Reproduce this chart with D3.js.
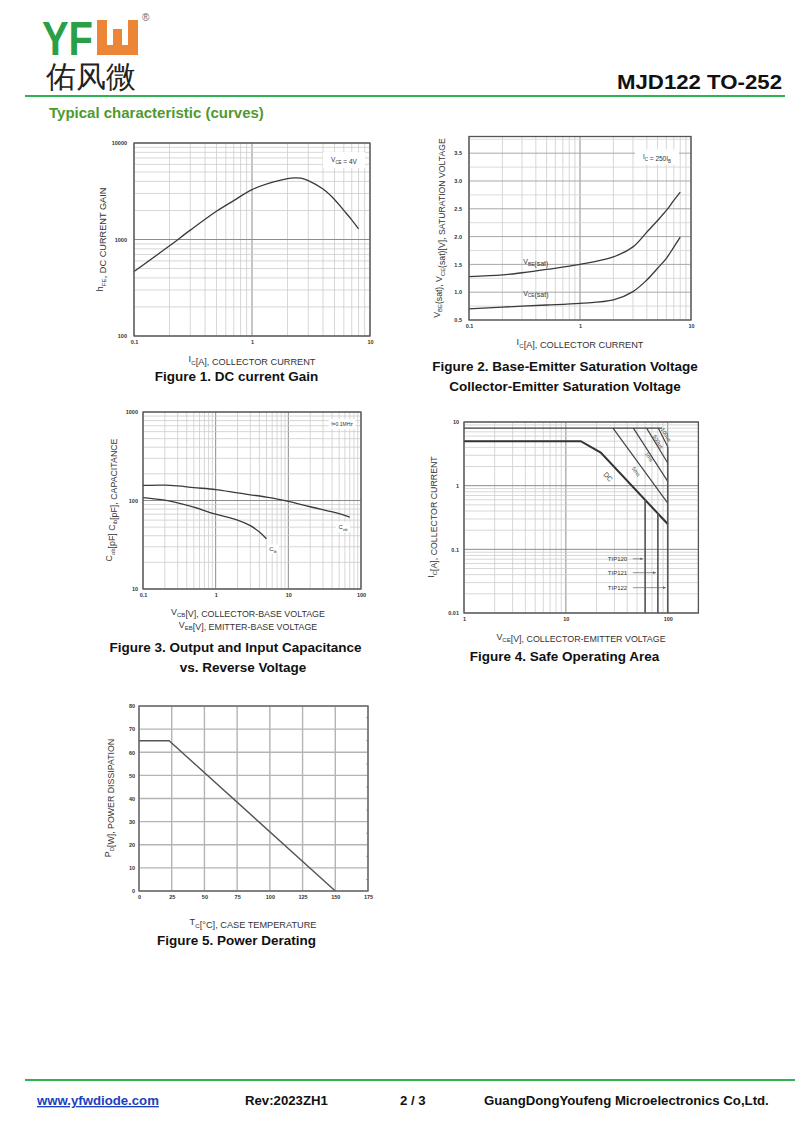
<!DOCTYPE html>
<html><head><meta charset="utf-8">
<script src="https://cdn.jsdelivr.net/npm/d3@7"></script>
<style>
body{margin:0;background:#fff}
svg{display:block}
text{font-family:"Liberation Sans",Arial,sans-serif}
</style>
</head><body>
<svg id="c" width="800" height="1137"></svg>
<script>
// ---------------- DATA ----------------
// Figure 1: DC current gain
const fig1Current = [0.1,0.2,0.3,0.5,0.7,1,1.5,2,2.3,2.6,3,4,5,6,7,8];
const fig1Gain    = [465,860,1250,1960,2530,3290,3925,4285,4360,4320,4080,3330,2600,2000,1600,1290];
const fig1XTicks = [0.1,1,10];
const fig1YTicks = [100,1000,10000];

// Figure 2: saturation voltages
const fig2Current = [0.1,0.2,0.3,0.5,1,2,3,4,5,6,7,8];
const fig2Vbe     = [1.28,1.31,1.35,1.41,1.50,1.635,1.815,2.08,2.29,2.47,2.65,2.80];
const fig2Vce     = [0.70,0.73,0.75,0.77,0.80,0.86,1.01,1.22,1.43,1.61,1.81,1.99];
const fig2XTicks = [0.1,1,10];
const fig2YTicks = [0.5,1.0,1.5,2.0,2.5,3.0,3.5];

// Figure 3: capacitance
const fig3VoltageOb = [0.1,0.2,0.3,0.5,1,2,5,10,20,50,70];
const fig3Cob       = [148,149,146,140,133,122,109,98,85,71,65];
const fig3VoltageIb = [0.1,0.2,0.3,0.5,1,2,3,4,5];
const fig3Cib       = [108,101,94,84,70,60,52,44,37];
const fig3XTicks = [0.1,1,10,100];
const fig3YTicks = [10,100,1000];

// Figure 4: safe operating area
const soaDcVoltage = [1,14,22,100];
const soaDcCurrent = [5,5,3.3,0.25];
const soaPulseNames   = ["5ms","1ms","500us","100us"];
const soaPulseStartV  = [29,46,62,81];
const soaPulseEndI    = [0.53,1.17,2.27,4.1];
const soaPulseLimitI  = 8;
const soaPulseEndV    = 100;
const soaLimitLineEndV = 88;
const tipNames    = ["TIP120","TIP121","TIP122"];
const tipVoltage  = [60,80,100];
const tipTopI     = [0.6,0.37,4.1];
const tipArrowI   = [0.071,0.043,0.025];
const fig4XTicks = [1,10,100];
const fig4YTicks = [0.01,0.1,1,10];

// Figure 5: power derating
const fig5Temp  = [0,23,150];
const fig5Power = [65,65,0];
const fig5XTicks = [0,25,50,75,100,125,150,175];
const fig5YTicks = [0,10,20,30,40,50,60,70,80];

// ---------------- HELPERS ----------------
const svg = d3.select("#c");
const GREEN = "#2db353";
const isDecade = v => Math.abs(Math.log10(v) - Math.round(Math.log10(v))) < 1e-9;
const TF = 9.2; // axis title font size

function rich(t, parts, fs){
  parts.forEach(p=>{
    if (typeof p === "string") t.append("tspan").text(p);
    else {
      t.append("tspan").attr("font-size", fs*0.68).attr("dy", fs*0.28).text(p.sub);
      t.append("tspan").attr("dy", -fs*0.28).text("");
    }
  });
  return t;
}
function logGrid(g, x, y, minorC, majorC){
  const [x0,x1] = x.range(), [y0,y1] = y.range();
  x.ticks().forEach(v=>{
    g.append("line").attr("x1",x(v)).attr("x2",x(v)).attr("y1",y0).attr("y2",y1)
      .attr("stroke", isDecade(v)?majorC:minorC).attr("stroke-width", isDecade(v)?1:0.8);
  });
  y.ticks().forEach(v=>{
    g.append("line").attr("y1",y(v)).attr("y2",y(v)).attr("x1",x0).attr("x2",x1)
      .attr("stroke", isDecade(v)?majorC:minorC).attr("stroke-width", isDecade(v)?1:0.8);
  });
}
function frame(g, x, y, c, w){
  const [x0,x1] = x.range(), [y0,y1] = y.range();
  g.append("rect").attr("x",x0).attr("y",Math.min(y0,y1)).attr("width",x1-x0)
    .attr("height",Math.abs(y0-y1)).attr("fill","none").attr("stroke",c).attr("stroke-width",w);
}
function styleAxis(a, fs){
  a.select(".domain").remove();
  a.selectAll("line").remove();
  a.selectAll("text").attr("font-size",fs).attr("font-weight","bold").attr("fill","#333")
    .attr("font-family","'Liberation Sans',Arial,sans-serif");
}
function axes(g, x, y, xt, yt, fmtX, fmtY, padX, padY){
  const [y0] = y.range();
  const ax = g.append("g").attr("transform",`translate(0,${y0})`)
    .call(d3.axisBottom(x).tickValues(xt).tickSize(0).tickPadding(padX).tickFormat(fmtX));
  styleAxis(ax, 5.5);
  const [x0] = x.range();
  const ay = g.append("g").attr("transform",`translate(${x0},0)`)
    .call(d3.axisLeft(y).tickValues(yt).tickSize(0).tickPadding(padY).tickFormat(fmtY));
  styleAxis(ay, 5.5);
}
function yTitle(g, cx, cy, parts, fs){
  const t = g.append("text").attr("transform",`translate(${cx},${cy}) rotate(-90)`)
    .attr("text-anchor","middle").attr("font-size",fs).attr("fill","#333").attr("dy","0.35em");
  rich(t, parts, fs);
}
function xTitle(g, cx, by, parts, fs){
  const t = g.append("text").attr("x",cx).attr("y",by).attr("text-anchor","middle")
    .attr("font-size",fs).attr("fill","#333");
  rich(t, parts, fs);
}
function caption(cx, by, s){
  svg.append("text").attr("x",cx).attr("y",by).attr("text-anchor","middle")
    .attr("font-size",13.5).attr("font-weight","bold").attr("fill","#111").text(s);
}
function legendBox(g, cx, cy, w, h, parts, fs){
  g.append("rect").attr("x",cx-w/2).attr("y",cy-h/2).attr("width",w).attr("height",h).attr("fill","#fff");
  const t = g.append("text").attr("x",cx).attr("y",cy).attr("dy","0.35em").attr("text-anchor","middle")
    .attr("font-size",fs).attr("fill","#333");
  rich(t, parts, fs);
}
const fmtPlain = d => String(d);
const fmtFix1 = d => d.toFixed(1);
const smooth = d3.curveCatmullRom.alpha(0.5);

// ---------------- HEADER ----------------
svg.append("text").attr("x",42).attr("y",55).attr("font-size",49).attr("font-weight","bold")
  .attr("fill","#2a9f48").attr("textLength",51).attr("lengthAdjust","spacingAndGlyphs").text("YF");
const ORANGE = "#ec8536";
svg.append("path").attr("fill",ORANGE)
  .attr("d","M97,20 H107 V45 H128 V20 H138 V55 H97 Z");
svg.append("rect").attr("x",113).attr("y",29).attr("width",9).attr("height",17).attr("fill",ORANGE);
svg.append("text").attr("x",142).attr("y",21).attr("font-size",10).attr("fill","#666").text("®");
svg.append("text").attr("x",46).attr("y",87).attr("font-size",30).attr("font-weight","500")
  .attr("font-family","'Noto Sans CJK SC',sans-serif").attr("fill","#222").text("佑风微");
svg.append("text").attr("x",782).attr("y",89).attr("text-anchor","end").attr("font-size",20)
  .attr("font-weight","bold").attr("fill","#111").attr("textLength",165).attr("lengthAdjust","spacingAndGlyphs")
  .text("MJD122 TO-252");
svg.append("line").attr("x1",25).attr("x2",785).attr("y1",96).attr("y2",96).attr("stroke",GREEN).attr("stroke-width",2);
svg.append("text").attr("x",49).attr("y",118).attr("font-size",15).attr("font-weight","bold")
  .attr("fill","#4f9a2e").text("Typical characteristic (curves)");

// ---------------- FIGURE 1 ----------------
{
  const g = svg.append("g");
  const x = d3.scaleLog().domain([0.1,10]).range([134,370]);
  const y = d3.scaleLog().domain([100,10000]).range([336,143]);
  logGrid(g, x, y, "#cdcdcd", "#8c8c8c");
  legendBox(g, 344, 160, 42, 16, ["V",{sub:"CE"}," = 4V"], 6.5);
  g.append("path").datum(fig1Current.map((c,i)=>[c,fig1Gain[i]]))
    .attr("d", d3.line().x(d=>x(d[0])).y(d=>y(d[1])).curve(smooth))
    .attr("fill","none").attr("stroke","#3a3a3a").attr("stroke-width",1.3);
  frame(g, x, y, "#555", 1.3);
  axes(g, x, y, fig1XTicks, fig1YTicks, fmtPlain, fmtPlain, 4, 7);
  yTitle(g, 100, 239.5, ["h",{sub:"FE"},", DC CURRENT GAIN"], TF);
  xTitle(g, 252, 362, ["I",{sub:"C"},"[A], COLLECTOR CURRENT"], TF);
  caption(236.5, 381, "Figure 1. DC current Gain");
}

// ---------------- FIGURE 2 ----------------
{
  const g = svg.append("g");
  const x = d3.scaleLog().domain([0.1,10]).range([469,691]);
  const y = d3.scaleLinear().domain([0.5,3.8]).range([320,136.5]);
  x.ticks().forEach(v=>{
    g.append("line").attr("x1",x(v)).attr("x2",x(v)).attr("y1",320).attr("y2",136.5)
      .attr("stroke", isDecade(v)?"#8c8c8c":"#cdcdcd").attr("stroke-width", isDecade(v)?1:0.8);
  });
  d3.range(0.5,3.8,0.25).forEach(v=>{
    const major = Math.abs(v*2-Math.round(v*2))<1e-9;
    g.append("line").attr("y1",y(v)).attr("y2",y(v)).attr("x1",469).attr("x2",691)
      .attr("stroke", major?"#a8a8a8":"#d2d2d2").attr("stroke-width", major?1:0.8);
  });
  legendBox(g, 657, 157, 44, 15, ["I",{sub:"C"}," = 250I",{sub:"B"}], 6.5);
  const line = d3.line().x(d=>x(d[0])).y(d=>y(d[1])).curve(smooth);
  g.append("path").datum(fig2Current.map((c,i)=>[c,fig2Vbe[i]])).attr("d",line)
    .attr("fill","none").attr("stroke","#3a3a3a").attr("stroke-width",1.3);
  g.append("path").datum(fig2Current.map((c,i)=>[c,fig2Vce[i]])).attr("d",line)
    .attr("fill","none").attr("stroke","#3a3a3a").attr("stroke-width",1.3);
  [[0.4,1.5,"BE"],[0.4,0.94,"CE"]].forEach(([xv,yv,s])=>{
    const t = g.append("text").attr("x",x(xv)).attr("y",y(yv)).attr("text-anchor","middle")
      .attr("font-size",7).attr("fill","#333");
    rich(t, ["V",{sub:s},"(sat)"], 7);
  });
  frame(g, x, y, "#555", 1.3);
  axes(g, x, y, fig2XTicks, fig2YTicks, fmtPlain, fmtFix1, 4, 7);
  yTitle(g, 437, 228, ["V",{sub:"BE"},"(sat), V",{sub:"CE"},"(sat)[V], SATURATION VOLTAGE"], 8.7);
  xTitle(g, 580, 345, ["I",{sub:"C"},"[A], COLLECTOR CURRENT"], TF);
  caption(565, 371, "Figure 2. Base-Emitter Saturation Voltage");
  caption(565, 391, "Collector-Emitter Saturation Voltage");
}

// ---------------- FIGURE 3 ----------------
{
  const g = svg.append("g");
  const x = d3.scaleLog().domain([0.1,100]).range([143,361]);
  const y = d3.scaleLog().domain([10,1000]).range([589,412]);
  logGrid(g, x, y, "#cdcdcd", "#8c8c8c");
  legendBox(g, 342, 424, 27, 10, ["f=0.1MHz"], 5);
  const line = d3.line().x(d=>x(d[0])).y(d=>y(d[1])).curve(smooth);
  g.append("path").datum(fig3VoltageOb.map((v,i)=>[v,fig3Cob[i]])).attr("d",line)
    .attr("fill","none").attr("stroke","#3a3a3a").attr("stroke-width",1.3);
  g.append("path").datum(fig3VoltageIb.map((v,i)=>[v,fig3Cib[i]])).attr("d",line)
    .attr("fill","none").attr("stroke","#3a3a3a").attr("stroke-width",1.3);
  legendBox(g, 343, 527, 14, 10, ["C",{sub:"ob"}], 6);
  legendBox(g, 273, 549, 12, 9, ["C",{sub:"ib"}], 6);
  frame(g, x, y, "#555", 1.3);
  axes(g, x, y, fig3XTicks, fig3YTicks, fmtPlain, fmtPlain, 4, 5);
  yTitle(g, 109, 500, ["C",{sub:"ob"},"[pF] C",{sub:"ib"},"[pF], CAPACITANCE"], 8.8);
  xTitle(g, 248, 615, ["V",{sub:"CB"},"[V], COLLECTOR-BASE VOLTAGE"], 8.9);
  xTitle(g, 248, 628, ["V",{sub:"EB"},"[V], EMITTER-BASE VOLTAGE"], 8.9);
  caption(235.5, 652, "Figure 3. Output and Input Capacitance");
  caption(243, 672, "vs. Reverse Voltage");
}

// ---------------- FIGURE 4 ----------------
{
  const g = svg.append("g");
  const x = d3.scaleLog().domain([1,200]).range([464,698.4]);
  const y = d3.scaleLog().domain([0.01,10]).range([613,422]);
  logGrid(g, x, y, "#cdcdcd", "#8c8c8c");
  const C = "#444";
  g.append("line").attr("x1",x(1)).attr("x2",x(soaLimitLineEndV)).attr("y1",y(soaPulseLimitI)).attr("y2",y(soaPulseLimitI))
    .attr("stroke",C).attr("stroke-width",1.2);
  soaPulseStartV.forEach((v,i)=>{
    g.append("line").attr("x1",x(v)).attr("y1",y(soaPulseLimitI)).attr("x2",x(soaPulseEndV)).attr("y2",y(soaPulseEndI[i]))
      .attr("stroke",C).attr("stroke-width",1.2);
  });
  g.append("path").datum(soaDcVoltage.map((v,i)=>[v,soaDcCurrent[i]]))
    .attr("d", d3.line().x(d=>x(d[0])).y(d=>y(d[1])))
    .attr("fill","none").attr("stroke","#333").attr("stroke-width",2);
  tipVoltage.forEach((v,i)=>{
    g.append("line").attr("x1",x(v)).attr("x2",x(v)).attr("y1",y(tipTopI[i])).attr("y2",y(0.01))
      .attr("stroke","#555").attr("stroke-width",1.6);
  });
  const lbl = [["DC",26,1.38,47],["5ms",48.9,1.66,54],["1ms",65.6,2.85,57],["500us",80.4,4.9,58],["100us",96.2,6.3,60]];
  lbl.forEach(([s,v,c,a])=>{
    g.append("text").attr("x",x(v)).attr("y",y(c)).attr("text-anchor","middle").attr("dy","0.35em")
      .attr("transform",`rotate(${a},${x(v)},${y(c)})`).attr("font-size",s==="DC"?7:5.5).attr("fill","#444").text(s);
  });
  g.append("defs").append("marker").attr("id","arr").attr("viewBox","0 0 6 6").attr("refX",6).attr("refY",3)
    .attr("markerWidth",4).attr("markerHeight",4).attr("orient","auto")
    .append("path").attr("d","M0,0 L6,3 L0,6 Z").attr("fill","#666");
  tipNames.forEach((n,i)=>{
    g.append("text").attr("x",x(40)).attr("y",y(tipArrowI[i])).attr("dy","0.35em").attr("text-anchor","end")
      .attr("font-size",6).attr("fill","#333").text(n);
    g.append("line").attr("x1",x(45.5)).attr("x2",x(tipVoltage[i])-2).attr("y1",y(tipArrowI[i])).attr("y2",y(tipArrowI[i]))
      .attr("stroke","#666").attr("stroke-width",0.7).attr("marker-end","url(#arr)");
  });
  frame(g, x, y, "#555", 1.3);
  axes(g, x, y, fig4XTicks, fig4YTicks, fmtPlain, fmtPlain, 4, 5);
  yTitle(g, 431, 517, ["I",{sub:"C"},"[A], COLLECTOR CURRENT"], 8.8);
  xTitle(g, 581, 640, ["V",{sub:"CE"},"[V], COLLECTOR-EMITTER VOLTAGE"], 8.9);
  caption(564.5, 661, "Figure 4. Safe Operating Area");
}

// ---------------- FIGURE 5 ----------------
{
  const g = svg.append("g");
  const x = d3.scaleLinear().domain([0,175]).range([139,368]);
  const y = d3.scaleLinear().domain([0,80]).range([891,706]);
  fig5XTicks.forEach(v=>g.append("line").attr("x1",x(v)).attr("x2",x(v)).attr("y1",891).attr("y2",706)
    .attr("stroke","#b4b4b4").attr("stroke-width",1.4));
  fig5YTicks.forEach(v=>g.append("line").attr("y1",y(v)).attr("y2",y(v)).attr("x1",139).attr("x2",368)
    .attr("stroke","#b4b4b4").attr("stroke-width",1.4));
  d3.range(5,80,10).forEach(v=>g.append("line").attr("y1",y(v)).attr("y2",y(v)).attr("x1",366).attr("x2",368)
    .attr("stroke","#999").attr("stroke-width",0.8));
  g.append("path").datum(fig5Temp.map((t,i)=>[t,fig5Power[i]]))
    .attr("d", d3.line().x(d=>x(d[0])).y(d=>y(d[1])))
    .attr("fill","none").attr("stroke","#555").attr("stroke-width",1.4);
  frame(g, x, y, "#666", 1.4);
  axes(g, x, y, fig5XTicks, fig5YTicks, fmtPlain, fmtPlain, 4, 4);
  yTitle(g, 108, 798, ["P",{sub:"D"},"[W], POWER DISSIPATION"], 8.8);
  xTitle(g, 253, 925, ["T",{sub:"C"},"[°C], CASE TEMPERATURE"], TF);
  caption(236.5, 945, "Figure 5. Power Derating");
}

// ---------------- FOOTER ----------------
svg.append("line").attr("x1",25).attr("x2",795).attr("y1",1080).attr("y2",1080).attr("stroke",GREEN).attr("stroke-width",2);
const foot = [[37,"www.yfwdiode.com","#1a3fbf"],[245,"Rev:2023ZH1","#111"],[400,"2 / 3","#111"],[484,"GuangDongYoufeng Microelectronics Co,Ltd."," #111".trim()]];
foot.forEach(([x,s,c],i)=>{
  svg.append("text").attr("x",x).attr("y",1105).attr("font-size",13.2).attr("font-weight","bold")
    .attr("fill",c).attr("text-decoration",i===0?"underline":null).text(s);
});
</script>
</body></html>
